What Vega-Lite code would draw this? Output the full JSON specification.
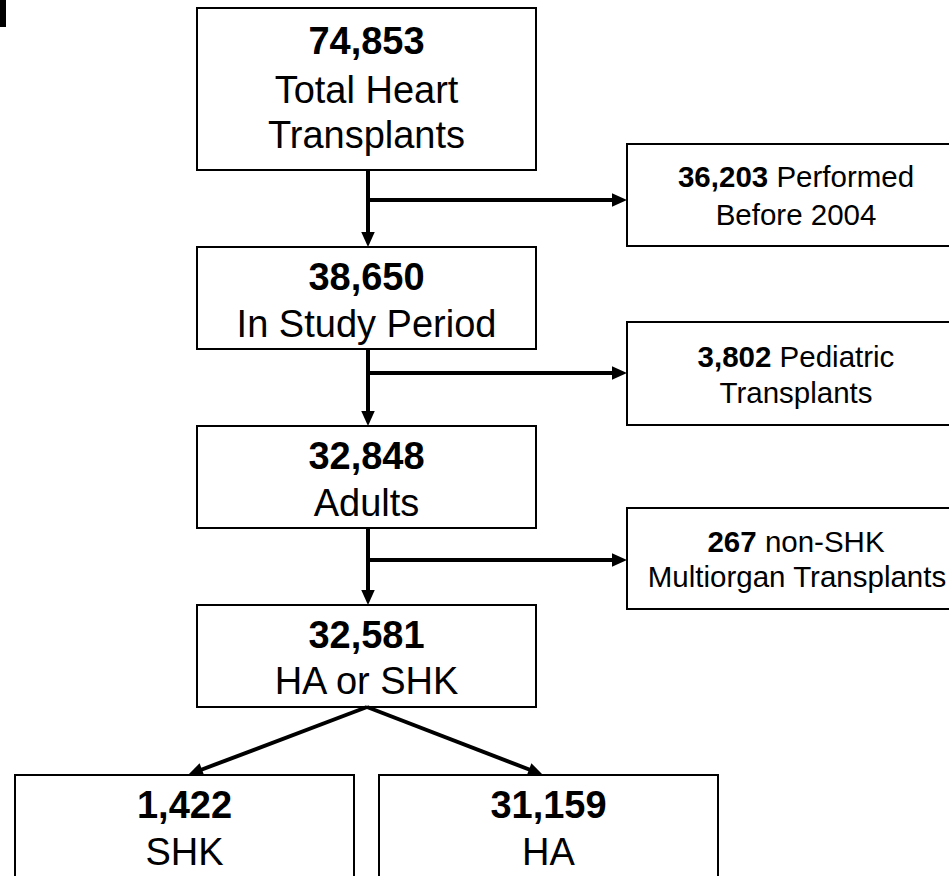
{
  "$schema": "https://vega.github.io/schema/vega-lite/v6.json",
  "width": 949,
  "height": 876,
  "autosize": {"type": "none"},
  "padding": 0,
  "background": "white",
  "config": {"view": {"stroke": null}},
  "datasets": {
    "boxes": [
      {"x": 197, "x2": 536, "y": 8, "y2": 170},
      {"x": 197, "x2": 536, "y": 247, "y2": 349},
      {"x": 197, "x2": 536, "y": 426, "y2": 528},
      {"x": 197, "x2": 536, "y": 605, "y2": 707},
      {"x": 15, "x2": 354, "y": 775, "y2": 900},
      {"x": 379, "x2": 718, "y": 775, "y2": 900},
      {"x": 627, "x2": 965, "y": 144, "y2": 246},
      {"x": 627, "x2": 965, "y": 322, "y2": 425},
      {"x": 627, "x2": 965, "y": 508, "y2": 609}
    ],
    "corner": [{"x": 0, "x2": 6, "y": 0, "y2": 27}],
    "segments": [
      {"x": 368, "y": 170, "x2": 368, "y2": 236},
      {"x": 368, "y": 200, "x2": 616, "y2": 200},
      {"x": 368, "y": 349, "x2": 368, "y2": 415},
      {"x": 368, "y": 373, "x2": 616, "y2": 373},
      {"x": 368, "y": 528, "x2": 368, "y2": 594},
      {"x": 368, "y": 560, "x2": 616, "y2": 560},
      {"x": 367, "y": 707, "x2": 198, "y2": 771},
      {"x": 367, "y": 707, "x2": 533, "y2": 771}
    ],
    "heads": [
      {"x": 368, "y": 247, "dir": "down"},
      {"x": 368, "y": 426, "dir": "down"},
      {"x": 368, "y": 605, "dir": "down"},
      {"x": 627, "y": 200, "dir": "right"},
      {"x": 627, "y": 373, "dir": "right"},
      {"x": 627, "y": 560, "dir": "right"},
      {"x": 188, "y": 775, "dir": "downleft"},
      {"x": 543, "y": 775, "dir": "downright"}
    ],
    "mainBold": [
      {"x": 366.5, "y": 54, "text": "74,853"},
      {"x": 366.5, "y": 290, "text": "38,650"},
      {"x": 366.5, "y": 469, "text": "32,848"},
      {"x": 366.5, "y": 648, "text": "32,581"},
      {"x": 184.5, "y": 818, "text": "1,422"},
      {"x": 548.5, "y": 818, "text": "31,159"}
    ],
    "mainText": [
      {"x": 366.5, "y": 103, "text": "Total Heart"},
      {"x": 366.5, "y": 148, "text": "Transplants"},
      {"x": 366.5, "y": 337, "text": "In Study Period"},
      {"x": 366.5, "y": 516, "text": "Adults"},
      {"x": 366.5, "y": 694, "text": "HA or SHK"},
      {"x": 184.5, "y": 865, "text": "SHK"},
      {"x": 548.5, "y": 865, "text": "HA"}
    ],
    "sideBold": [
      {"x": 768.2, "y": 187, "text": "36,203"},
      {"x": 771.4, "y": 367, "text": "3,802"},
      {"x": 756.7, "y": 552, "text": "267"}
    ],
    "sideRest": [
      {"x": 776.4, "y": 187, "text": "Performed"},
      {"x": 779.6, "y": 367, "text": "Pediatric"},
      {"x": 764.9, "y": 552, "text": "non-SHK"}
    ],
    "sideLine2": [
      {"x": 796, "y": 225, "text": "Before 2004"},
      {"x": 796, "y": 403, "text": "Transplants"},
      {"x": 797, "y": 587, "text": "Multiorgan Transplants"}
    ]
  },
  "encoding": {
    "x": {"field": "x", "type": "quantitative", "scale": {"domain": [0, 949], "nice": false, "zero": false}, "axis": null},
    "y": {"field": "y", "type": "quantitative", "scale": {"domain": [0, 876], "nice": false, "zero": false, "reverse": true}, "axis": null}
  },
  "layer": [
    {
      "data": {"name": "boxes"},
      "mark": {"type": "rect", "fill": "white", "stroke": "black", "strokeWidth": 2, "clip": true},
      "encoding": {"x2": {"field": "x2"}, "y2": {"field": "y2"}}
    },
    {
      "data": {"name": "corner"},
      "mark": {"type": "rect", "fill": "black", "clip": true},
      "encoding": {"x2": {"field": "x2"}, "y2": {"field": "y2"}}
    },
    {
      "data": {"name": "segments"},
      "mark": {"type": "rule", "color": "black", "strokeWidth": 4, "strokeCap": "butt"},
      "encoding": {"x2": {"field": "x2"}, "y2": {"field": "y2"}}
    },
    {
      "data": {"name": "heads"},
      "transform": [{"filter": "datum.dir === 'down'"}],
      "mark": {"type": "point", "shape": "M0,0L-0.9,-2L0.9,-2Z", "size": 225, "filled": true, "color": "black", "opacity": 1, "strokeWidth": 0, "angle": 0}
    },
    {
      "data": {"name": "heads"},
      "transform": [{"filter": "datum.dir === 'right'"}],
      "mark": {"type": "point", "shape": "M0,0L-0.9,-2L0.9,-2Z", "size": 225, "filled": true, "color": "black", "opacity": 1, "strokeWidth": 0, "angle": 270}
    },
    {
      "data": {"name": "heads"},
      "transform": [{"filter": "datum.dir === 'downleft'"}],
      "mark": {"type": "point", "shape": "M0,0L-0.9,-2L0.9,-2Z", "size": 225, "filled": true, "color": "black", "opacity": 1, "strokeWidth": 0, "angle": 69}
    },
    {
      "data": {"name": "heads"},
      "transform": [{"filter": "datum.dir === 'downright'"}],
      "mark": {"type": "point", "shape": "M0,0L-0.9,-2L0.9,-2Z", "size": 225, "filled": true, "color": "black", "opacity": 1, "strokeWidth": 0, "angle": 291}
    },
    {
      "data": {"name": "mainBold"},
      "mark": {"type": "text", "font": "Liberation Sans", "fontSize": 38, "fontWeight": "bold", "align": "center", "baseline": "alphabetic", "color": "black"},
      "encoding": {"text": {"field": "text"}}
    },
    {
      "data": {"name": "mainText"},
      "mark": {"type": "text", "font": "Liberation Sans", "fontSize": 38, "align": "center", "baseline": "alphabetic", "color": "black"},
      "encoding": {"text": {"field": "text"}}
    },
    {
      "data": {"name": "sideBold"},
      "mark": {"type": "text", "font": "Liberation Sans", "fontSize": 29.5, "fontWeight": "bold", "align": "right", "baseline": "alphabetic", "color": "black"},
      "encoding": {"text": {"field": "text"}}
    },
    {
      "data": {"name": "sideRest"},
      "mark": {"type": "text", "font": "Liberation Sans", "fontSize": 29.5, "align": "left", "baseline": "alphabetic", "color": "black"},
      "encoding": {"text": {"field": "text"}}
    },
    {
      "data": {"name": "sideLine2"},
      "mark": {"type": "text", "font": "Liberation Sans", "fontSize": 29.5, "align": "center", "baseline": "alphabetic", "color": "black"},
      "encoding": {"text": {"field": "text"}}
    }
  ]
}
